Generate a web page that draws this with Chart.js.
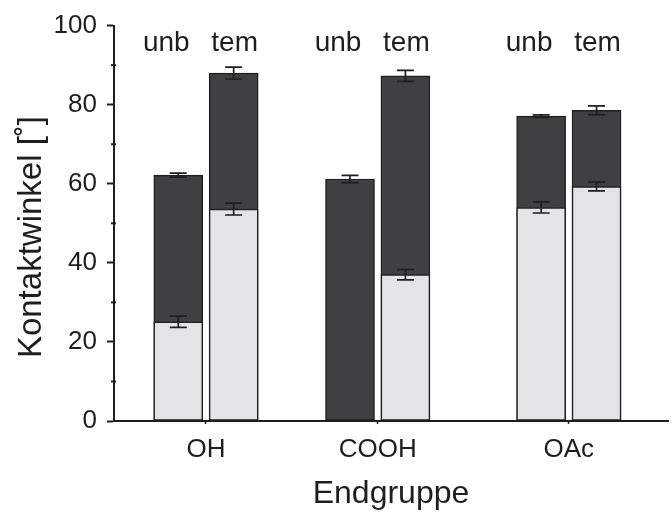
<!DOCTYPE html>
<html>
<head>
<meta charset="utf-8">
<script src="https://cdn.jsdelivr.net/npm/chart.js@4"></script>
<style>
  body { margin: 0; background: #fff; }
  #wrap { width: 672px; height: 512px; }
</style>
</head>
<body>
<div id="wrap"><canvas id="myChart"></canvas></div>
<script>
const categories = ['OH', 'COOH', 'OAc'];
const treatments = ['unb', 'tem'];

// dark bars (total) and light bars (lower value), per group
const totalUnb = [62.2, 61.2, 77.1];
const totalTem = [88.0, 87.3, 78.6];
const errTotalUnb = [0.5, 0.9, 0.3];
const errTotalTem = [1.5, 1.4, 1.1];

const lightUnb = [25.1, null, 54.0];
const lightTem = [53.6, 37.0, 59.3];
const errLightUnb = [1.4, null, 1.4];
const errLightTem = [1.5, 1.3, 1.1];

const yTicks = [0, 20, 40, 60, 80, 100];
const yMinor = [10, 30, 50, 70, 90];

// group centres on the x scale
const groupPos = [1.66, 4.76, 8.21];
const barOffset = 0.5;

const ink = '#1e1e1e';
const font = '"Liberation Sans", Arial, Helvetica, sans-serif';

let totalPts = [];
let lightPts = [];
let errTotal = [];
let errLight = [];
for (let i = 0; i < categories.length; i++) {
  totalPts.push({x: groupPos[i] - barOffset, y: totalUnb[i]});
  totalPts.push({x: groupPos[i] + barOffset, y: totalTem[i]});
  lightPts.push({x: groupPos[i] - barOffset, y: lightUnb[i]});
  lightPts.push({x: groupPos[i] + barOffset, y: lightTem[i]});
  errTotal.push(errTotalUnb[i], errTotalTem[i]);
  errLight.push(errLightUnb[i], errLightTem[i]);
}

const errorBars = {
  id: 'errorBars',
  afterDatasetsDraw(chart) {
    const c = chart.ctx;
    const xs = chart.scales.x;
    const ys = chart.scales.y;
    const sets = [[totalPts, errTotal], [lightPts, errLight]];
    c.save();
    c.strokeStyle = ink;
    c.lineWidth = 1.7;
    sets.forEach(([pts, errs]) => {
      pts.forEach((p, i) => {
        if (p.y == null || errs[i] == null) return;
        const x = xs.getPixelForValue(p.x);
        const y1 = ys.getPixelForValue(p.y + errs[i]);
        const y2 = ys.getPixelForValue(p.y - errs[i]);
        c.beginPath();
        c.moveTo(x, y1); c.lineTo(x, y2);
        c.moveTo(x - 8.5, y1); c.lineTo(x + 8.5, y1);
        c.moveTo(x - 8.5, y2); c.lineTo(x + 8.5, y2);
        c.stroke();
      });
    });
    c.restore();
  }
};

const extras = {
  id: 'extras',
  afterDraw(chart) {
    const c = chart.ctx;
    const xs = chart.scales.x;
    const ys = chart.scales.y;
    const left = chart.chartArea.left;
    c.save();
    // minor y ticks
    c.strokeStyle = ink;
    c.lineWidth = 2;
    yMinor.forEach(v => {
      const y = ys.getPixelForValue(v);
      c.beginPath();
      c.moveTo(left - 3, y); c.lineTo(left + 2, y);
      c.stroke();
    });
    // treatment labels above each group
    c.fillStyle = ink;
    c.font = '28px ' + font;
    c.textAlign = 'center';
    c.textBaseline = 'alphabetic';
    groupPos.forEach(g => {
      c.fillText(treatments[0], xs.getPixelForValue(g - barOffset) - 12, 51);
      c.fillText(treatments[1], xs.getPixelForValue(g + barOffset) + 1, 51);
    });
    c.restore();
  }
};

const data = {
  datasets: [
    {
      label: 'light',
      data: lightPts,
      backgroundColor: '#e3e4e6',
      borderColor: ink,
      borderWidth: 1.5,
      borderSkipped: false,
      barThickness: 49,
      grouped: false,
      order: 0,
    },
    {
      label: 'total',
      data: totalPts,
      backgroundColor: '#3f4042',
      borderColor: ink,
      borderWidth: 1.5,
      borderSkipped: false,
      barThickness: 49,
      grouped: false,
      order: 1,
    },
  ],
};

const config = {
  type: 'bar',
  data: data,
  options: {
    responsive: true,
    maintainAspectRatio: false,
    animation: false,
    layout: { padding: { top: 22, right: 4, left: 0, bottom: 0 } },
    plugins: {
      legend: { display: false },
      tooltip: { enabled: false },
    },
    scales: {
      x: {
        type: 'linear',
        min: 0,
        max: 10,
        offset: false,
        afterBuildTicks(scale) {
          scale.ticks = groupPos.map(v => ({value: v}));
        },
        afterFit(scale) { scale.height = 91; },
        ticks: {
          callback: (v, i) => categories[i],
          color: ink,
          font: { size: 26, family: font },
          padding: 10,
          maxRotation: 0,
          autoSkip: false,
        },
        grid: {
          offset: false,
          drawOnChartArea: false,
          tickLength: 3,
          tickColor: ink,
          tickWidth: 1.5,
        },
        border: { color: ink, width: 2 },
        title: {
          display: true,
          text: 'Endgruppe',
          color: ink,
          font: { size: 32, family: font, lineHeight: 1.1 },
          padding: { top: 0, bottom: 0 },
        },
      },
      y: {
        min: 0,
        max: 100,
        afterBuildTicks(scale) {
          scale.ticks = yTicks.map(v => ({value: v}));
        },
        afterFit(scale) { scale.width = 114; },
        ticks: {
          color: ink,
          font: { size: 26, family: font },
          padding: 10,
        },
        grid: {
          drawOnChartArea: false,
          tickLength: 7,
          tickColor: ink,
          tickWidth: 2,
        },
        border: { color: ink, width: 2 },
        title: {
          display: true,
          text: 'Kontaktwinkel [˚]\u00a0\u00a0\u00a0',
          color: ink,
          font: { size: 33, family: font, lineHeight: 1.1 },
          padding: { top: 14, bottom: 0 },
        },
      },
    },
  },
  plugins: [errorBars, extras],
};

const ctx = document.querySelector('#myChart').getContext('2d');
const myChart = new Chart(ctx, config);
</script>
</body>
</html>
